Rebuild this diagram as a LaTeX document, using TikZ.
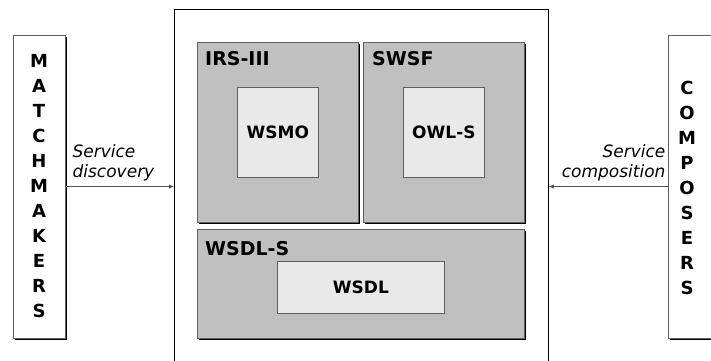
\documentclass[tikz,border=0pt]{standalone}
\usepackage{fontspec}
\setmainfont{DejaVu Sans}
\usepackage{tikz}
\usetikzlibrary{positioning,arrows.meta,shadows}
\definecolor{cgris}{HTML}{C0C0C0}
\definecolor{cclaro}{HTML}{E9E9E9}
\definecolor{cborde}{HTML}{5F5F5F}
\definecolor{cflecha}{HTML}{505050}
\tikzset{
  sombra/.style={drop shadow={shadow xshift=2pt, shadow yshift=-2pt, opacity=1, fill=black}},
  caja/.style={rectangle, draw=cborde, fill=white, line width=0.8pt, sombra,
    minimum width=52pt, minimum height=303pt, inner sep=0pt},
  letras/.style={align=center, inner sep=0pt, font=\fontsize{18}{25}\selectfont\bfseries},
  cajag/.style={rectangle, draw=cborde, fill=cgris, line width=0.8pt, sombra,
    inner sep=0pt, anchor=north west},
  cajac/.style={rectangle, draw=cborde, fill=cclaro, line width=0.6pt,
    inner sep=0pt, font=\fontsize{17}{19}\selectfont\bfseries},
  titulo/.style={anchor=base west, inner sep=0pt, font=\fontsize{19}{22}\selectfont\bfseries},
  flecha/.style={-{Latex[length=5pt,width=4.5pt]}, line width=0.9pt, draw=cflecha},
  etq/.style={font=\fontsize{17}{20}\selectfont\itshape, inner sep=0pt},
}

\begin{document}
\begin{tikzpicture}[x=1pt, y=-1pt]
  \useasboundingbox (0,0) rectangle (711,360);
  % actores a los lados
  \node[caja, letras] (mm) at (39,186.5) {M\\A\\T\\C\\H\\M\\A\\K\\E\\R\\S};
  \node[caja] (cmp) at (694,186.5) {};
  \node[letras] (cmpt) at (687,187.5) {C\\O\\M\\P\\O\\S\\E\\R\\S};
  % plataforma central
  \node[draw=black, line width=0.7pt, minimum width=374pt, minimum height=371pt,
    anchor=north west, inner sep=0pt] (plat) at (174,9) {};
  \node[cajag, minimum width=161pt, minimum height=180pt] (irs) at (197,42) {};
  \node[cajag, minimum width=161pt, minimum height=180pt] (swsf) at (363,42) {};
  \node[cajag, minimum width=327pt, minimum height=109pt] (wsdls) at (197,229) {};
  \node[titulo] (tirs) at ([xshift=8pt, yshift=-23pt]irs.north west) {IRS-III};
  \node[titulo] (tswsf) at ([xshift=9pt, yshift=-23pt]swsf.north west) {SWSF};
  \node[titulo] (twsdls) at ([xshift=8pt, yshift=-26pt]wsdls.north west) {WSDL-S};
  \node[cajac, minimum width=81pt, minimum height=90pt] (wsmo) at (irs.center) {WSMO};
  \node[cajac, minimum width=81pt, minimum height=90pt] (owls) at (swsf.center) {OWL-S};
  \node[cajac, minimum width=167pt, minimum height=52pt] (wsdl) at ([yshift=-3.5pt]wsdls.center) {WSDL};
  % flechas
  \draw[flecha] (mm.east) -- (mm.east -| plat.west);
  \draw[flecha] (cmp.west) -- (cmp.west -| plat.east);
  \node[etq, align=left, anchor=south west] (ldisc) at ([xshift=7pt, yshift=5pt]mm.east) {Service\\discovery};
  \node[etq, align=right, anchor=south east] (lcomp) at ([xshift=-2pt, yshift=5pt]cmp.west) {Service\\composition};
\end{tikzpicture}
\end{document}
